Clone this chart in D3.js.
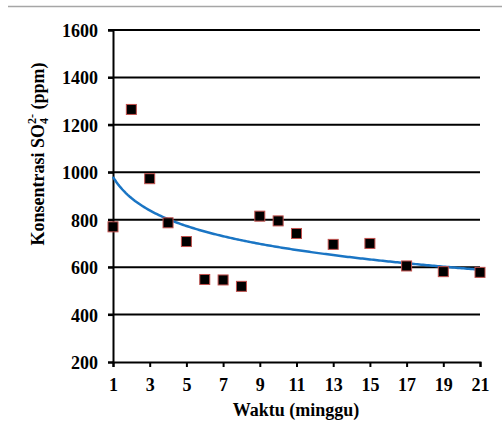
<!DOCTYPE html>
<html>
<head>
<meta charset="utf-8">
<script src="https://cdn.jsdelivr.net/npm/d3@7"></script>
<style>
  body { margin: 0; background: #fff; }
</style>
</head>
<body>
<svg width="502" height="431"></svg>
<script>
// weeks (x) and sulfate concentration (ppm)
const weeks = [1, 2, 3, 4, 5, 6, 7, 8, 9, 10, 11, 13, 15, 17, 19, 21]
const sulfate = [770, 1265, 973, 787, 708, 548, 546, 519, 815, 795, 742, 696, 700, 605, 581, 578]
const xTicks = [1, 3, 5, 7, 9, 11, 13, 15, 17, 19, 21]
const yTicks = [200, 400, 600, 800, 1000, 1200, 1400, 1600]

const FONT = "Liberation Serif"
const svg = d3.select("svg")

// grey rule across the top of the page
svg.append("line")
    .attr("x1", 8).attr("x2", 502)
    .attr("y1", 6.5).attr("y2", 6.5)
    .attr("stroke", "#a6a6a6").attr("stroke-width", 1.5)

const x = d3.scaleLinear().domain([1, 21]).range([113, 480])
const y = d3.scaleLinear().domain([200, 1600]).range([362, 30])

// gridlines
svg.append("g")
  .selectAll("line")
  .data(yTicks.slice(1))
  .enter().append("line")
    .attr("x1", 108).attr("x2", x(21))
    .attr("y1", d => y(d)).attr("y2", d => y(d))
    .attr("stroke", "#000").attr("stroke-width", 2)

// axes
const yAxis = svg.append("g")
    .attr("transform", `translate(${x(1)},0)`)
    .call(d3.axisLeft(y).tickValues(yTicks).tickFormat(d3.format("d")).tickSize(5).tickPadding(10))
const xAxis = svg.append("g")
    .attr("transform", `translate(0,${y(200)})`)
    .call(d3.axisBottom(x).tickValues(xTicks).tickFormat(d3.format("d")).tickSize(5).tickPadding(11))

;[yAxis, xAxis].forEach(ax => {
  ax.attr("font-family", null).attr("font-size", null)
  ax.select(".domain").attr("stroke", "#000").attr("stroke-width", 2)
  ax.selectAll(".tick line").attr("stroke", "#000").attr("stroke-width", 2)
  ax.selectAll(".tick text")
      .attr("fill", "#000")
      .attr("font-family", FONT)
      .attr("font-size", 18)
      .attr("font-weight", "bold")
})
yAxis.selectAll(".tick text").attr("dy", "0.36em")

// logarithmic trendline (least squares on ln x)
const lx = weeks.map(Math.log)
const mx = d3.mean(lx), my = d3.mean(sulfate)
const b = d3.sum(lx, (v, i) => (v - mx) * (sulfate[i] - my)) / d3.sum(lx, v => (v - mx) * (v - mx))
const a = my - b * mx
const trend = d3.range(1, 21.001, 0.1).map(t => [t, a + b * Math.log(t)])

svg.append("path")
    .datum(trend)
    .attr("fill", "none")
    .attr("stroke", "#1a75c4")
    .attr("stroke-width", 2.5)
    .attr("d", d3.line().x(d => x(d[0])).y(d => y(d[1])))

// markers
svg.append("g")
  .selectAll("rect")
  .data(weeks)
  .enter().append("rect")
    .attr("x", (d) => x(d) - 5)
    .attr("y", (d, i) => y(sulfate[i]) - 5)
    .attr("width", 10).attr("height", 10)
    .attr("fill", "#000")
    .attr("stroke", "#c0504d")
    .attr("stroke-width", 1)

// axis titles
svg.append("text")
    .attr("x", 296).attr("y", 416)
    .attr("text-anchor", "middle")
    .attr("font-family", FONT).attr("font-weight", "bold")
    .attr("font-size", 18)
    .text("Waktu (minggu)")

const yt = svg.append("text")
    .attr("transform", "translate(44,154) rotate(-90)")
    .attr("text-anchor", "middle")
    .attr("font-family", FONT).attr("font-weight", "bold")
    .attr("font-size", 18)
yt.append("tspan").text("Konsentrasi SO")
yt.append("tspan").attr("dy", 4).attr("font-size", 12).text("4")
yt.append("tspan").attr("dy", -12).attr("dx", -6).attr("font-size", 12).text("2-")
yt.append("tspan").attr("dy", 8).text(" (ppm)")
</script>
</body>
</html>
